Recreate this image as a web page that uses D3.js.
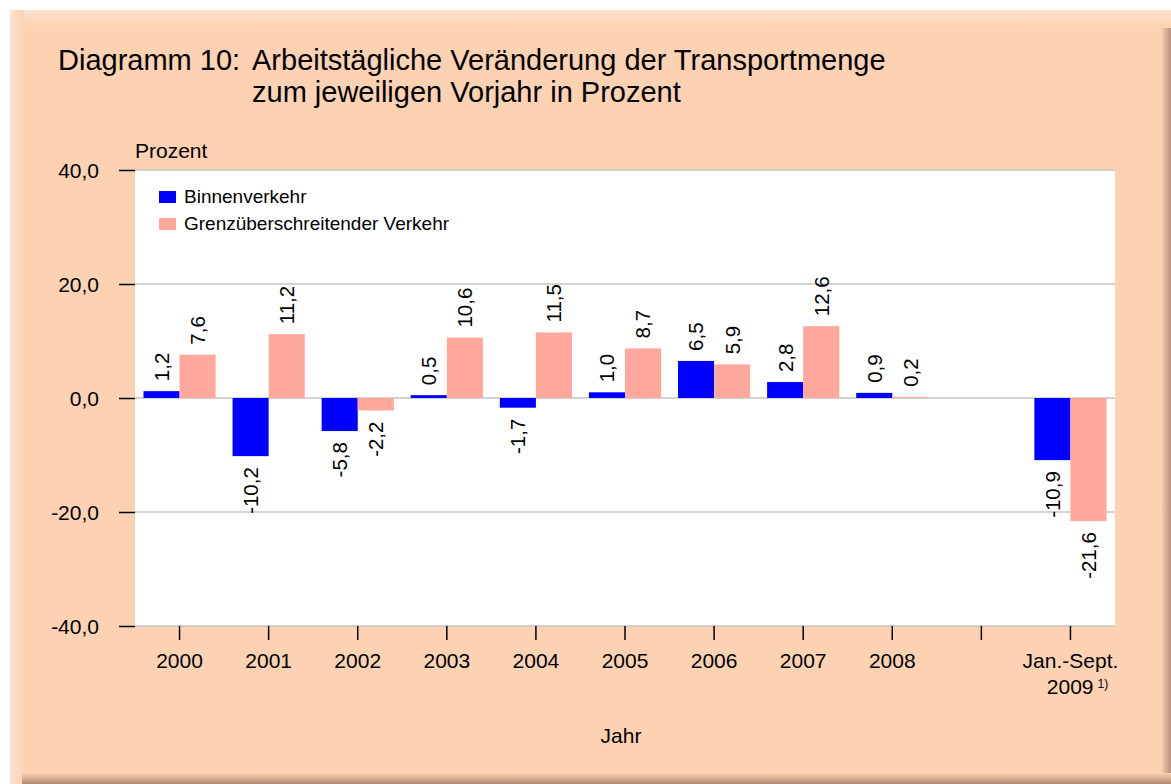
<!DOCTYPE html>
<html>
<head>
<meta charset="utf-8">
<script src="https://cdn.jsdelivr.net/npm/d3@7"></script>
<style>
  body { margin: 0; background: #fff; }
  svg text { font-family: "Liberation Sans", Arial, sans-serif; fill: #000; }
</style>
</head>
<body>
<svg width="1171" height="784"></svg>
<script>
// data
var categories = ["2000", "2001", "2002", "2003", "2004", "2005", "2006", "2007", "2008", "", "Jan.-Sept. 2009"];
var binnen = [1.2, -10.2, -5.8, 0.5, -1.7, 1.0, 6.5, 2.8, 0.9, null, -10.9];
var grenz = [7.6, 11.2, -2.2, 10.6, 11.5, 8.7, 5.9, 12.6, 0.2, null, -21.6];
var seriesNames = ["Binnenverkehr", "Grenzüberschreitender Verkehr"];
var seriesColors = ["#0000ff", "#ffa89b"];
var yTicks = [-40, -20, 0, 20, 40];

var de = d3.formatLocale({decimal: ",", thousands: ".", grouping: [3], currency: ["", "€"], minus: "-"});
var fmt = de.format(".1f");

var svg = d3.select("svg");
var defs = svg.append("defs");

// panel background with bevel / shadow
var gR = defs.append("linearGradient").attr("id", "shR");
gR.append("stop").attr("offset", "0").attr("stop-color", "#fcd2b3");
gR.append("stop").attr("offset", "1").attr("stop-color", "#b8907a");
var gB = defs.append("linearGradient").attr("id", "shB").attr("x1", 0).attr("x2", 0).attr("y1", 0).attr("y2", 1);
gB.append("stop").attr("offset", "0").attr("stop-color", "#fcd2b3");
gB.append("stop").attr("offset", "1").attr("stop-color", "#b08874");
var gT = defs.append("linearGradient").attr("id", "shT").attr("x1", 0).attr("x2", 0).attr("y1", 0).attr("y2", 1);
gT.append("stop").attr("offset", "0").attr("stop-color", "#fde1cf");
gT.append("stop").attr("offset", "1").attr("stop-color", "#fcd2b3");
var gL = defs.append("linearGradient").attr("id", "shL");
gL.append("stop").attr("offset", "0").attr("stop-color", "#fde1cf");
gL.append("stop").attr("offset", "1").attr("stop-color", "#fcd2b3");

svg.append("rect").attr("x", 10).attr("y", 10).attr("width", 1161).attr("height", 774).attr("fill", "#fcd2b3");
svg.append("rect").attr("x", 10).attr("y", 10).attr("width", 1161).attr("height", 16).attr("fill", "url(#shT)");
svg.append("rect").attr("x", 10).attr("y", 10).attr("width", 14).attr("height", 774).attr("fill", "url(#shL)");
svg.append("rect").attr("x", 1161).attr("y", 28).attr("width", 10).attr("height", 756).attr("fill", "url(#shR)");
svg.append("rect").attr("x", 22).attr("y", 773).attr("width", 1149).attr("height", 11).attr("fill", "url(#shB)");

// title
svg.append("text").attr("x", 58).attr("y", 70).style("font-size", "29px").text("Diagramm 10:");
svg.append("text").attr("x", 252).attr("y", 70).style("font-size", "29px").text("Arbeitstägliche Veränderung der Transportmenge");
svg.append("text").attr("x", 252).attr("y", 102).style("font-size", "29px").text("zum jeweiligen Vorjahr in Prozent");

var plotL = 135, plotR = 1115, plotT = 170, plotB = 626;

var x = d3.scaleBand().domain(categories).range([plotL, plotR]).paddingInner(0.19).paddingOuter(0.095);
var xs = d3.scaleBand().domain([0, 1]).range([0, x.bandwidth()]);
var y = d3.scaleLinear().domain([-40, 40]).range([plotB, plotT]);

// plot area
svg.append("rect").attr("x", plotL).attr("y", plotT).attr("width", plotR - plotL).attr("height", plotB - plotT).attr("fill", "#fff");

svg.append("g").selectAll("line").data(yTicks).enter().append("line")
  .attr("x1", plotL).attr("x2", plotR)
  .attr("y1", function(d) { return y(d); }).attr("y2", function(d) { return y(d); })
  .attr("stroke", "#c4c4c4").attr("stroke-width", 1.5);

// y axis
var yAxis = svg.append("g").attr("transform", "translate(" + plotL + ",0)")
  .call(d3.axisLeft(y).tickValues(yTicks).tickSize(16).tickPadding(20).tickFormat(fmt));
yAxis.select(".domain").remove();
yAxis.selectAll("line").attr("stroke", "#000").attr("stroke-width", 1.5);
yAxis.selectAll("text").style("font-size", "21px").attr("dy", "0.36em");

svg.append("text").attr("x", 135).attr("y", 158).style("font-size", "21px").text("Prozent");

// x axis
var xAxis = svg.append("g").attr("transform", "translate(0," + plotB + ")")
  .call(d3.axisBottom(x).tickSize(14).tickPadding(13));
xAxis.select(".domain").remove();
xAxis.selectAll("line").attr("stroke", "#000").attr("stroke-width", 1.5);
xAxis.selectAll("text").style("font-size", "21px");
xAxis.selectAll(".tick text").filter(function(d) { return d === "Jan.-Sept. 2009"; })
  .each(function() {
    var t = d3.select(this).text(null);
    t.append("tspan").attr("x", 0).text("Jan.-Sept.");
    t.append("tspan").attr("x", 7).attr("dy", 26).text("2009");
    t.append("tspan").attr("dx", 4).attr("dy", -6).style("font-size", "12px").text("1)");
  });

svg.append("text").attr("x", 621).attr("y", 743).attr("text-anchor", "middle").style("font-size", "21px").text("Jahr");

// bars
var rows = [];
categories.forEach(function(c, i) {
  [binnen[i], grenz[i]].forEach(function(v, s) {
    if (v !== null) rows.push({cat: c, s: s, v: v});
  });
});

svg.append("g").selectAll("rect").data(rows).enter().append("rect")
  .attr("x", function(d) { return x(d.cat) + xs(d.s); })
  .attr("width", xs.bandwidth())
  .attr("y", function(d) { return y(Math.max(0, d.v)); })
  .attr("height", function(d) { return Math.abs(y(d.v) - y(0)); })
  .attr("fill", function(d) { return seriesColors[d.s]; });

// value labels
svg.append("g").selectAll("text").data(rows).enter().append("text")
  .attr("transform", function(d) {
    var cx = x(d.cat) + xs(d.s) + xs.bandwidth() / 2;
    var ty = d.v >= 0 ? y(d.v) - 10 : y(d.v) + 11;
    return "translate(" + cx + "," + ty + ") rotate(-90)";
  })
  .attr("text-anchor", function(d) { return d.v >= 0 ? "start" : "end"; })
  .attr("dy", "0.36em")
  .style("font-size", "20.5px")
  .text(function(d) { return fmt(d.v); });

// legend
var leg = svg.append("g").selectAll("g").data(seriesNames).enter().append("g")
  .attr("transform", function(d, i) { return "translate(159," + (191 + i * 27) + ")"; });
leg.append("rect").attr("width", 17).attr("height", 12).attr("fill", function(d, i) { return seriesColors[i]; });
leg.append("text").attr("x", 25).attr("y", 12).style("font-size", "19px").text(function(d) { return d; });
</script>
</body>
</html>
